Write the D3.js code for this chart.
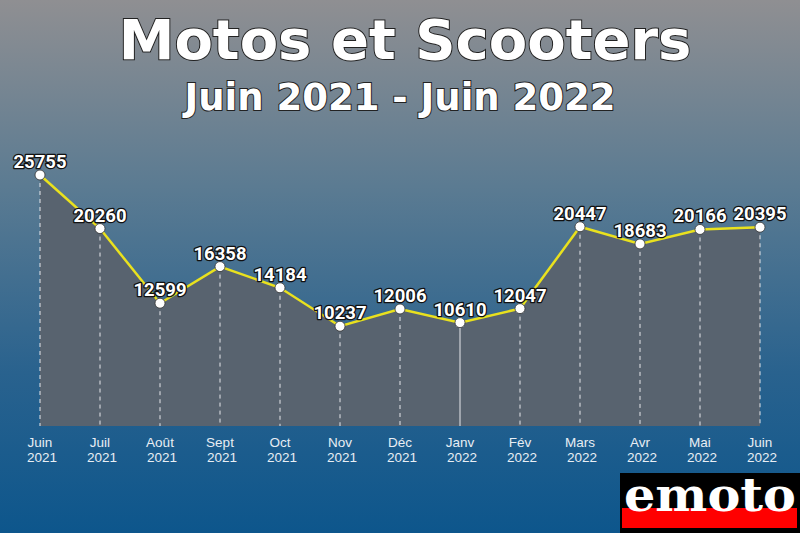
<!DOCTYPE html>
<html><head><meta charset="utf-8">
<script src="https://cdn.jsdelivr.net/npm/d3@7"></script>
<style>html,body{margin:0;padding:0;}svg{display:block;}</style>
</head><body>
<script>
const months = ["Juin","Juil","Août","Sept","Oct","Nov","Déc","Janv","Fév","Mars","Avr","Mai","Juin"];
const years = ["2021","2021","2021","2021","2021","2021","2021","2022","2022","2022","2022","2022","2022"];
const values = [25755,20260,12599,16358,14184,10237,12006,10610,12047,20447,18683,20166,20395];
const title = "Motos et Scooters";
const subtitle = "Juin 2021 - Juin 2022";

const W = 800, H = 533;
const svg = d3.select("body").append("svg").attr("width", W).attr("height", H);
const defs = svg.append("defs");
const g = defs.append("linearGradient").attr("id","bg").attr("x1",0).attr("y1",0).attr("x2",0).attr("y2",1);
g.append("stop").attr("offset","0%").attr("stop-color","#8f8f92");
g.append("stop").attr("offset","35%").attr("stop-color","#5b7b92");
g.append("stop").attr("offset","70%").attr("stop-color","#29628e");
g.append("stop").attr("offset","100%").attr("stop-color","#0d568c");
svg.append("rect").attr("width",W).attr("height",H).attr("fill","url(#bg)");

const idx = d3.range(values.length);
const x = d3.scaleLinear().domain([0, values.length-1]).range([40, 760]);
const y = d3.scaleLinear().domain([0, 25755]).range([426, 175]);

svg.append("path").datum(idx)
  .attr("d", d3.area().x(i=>x(i)).y0(y(0)).y1(i=>y(values[i])))
  .attr("fill","#58636f");

svg.selectAll("line.v").data(idx).join("line")
  .attr("x1",i=>x(i)).attr("x2",i=>x(i))
  .attr("y1",i=>y(values[i])).attr("y2",y(0))
  .attr("stroke","#e6e8ec").attr("stroke-width",1)
  .attr("stroke-dasharray",i=> i===7 ? null : "4,4");

svg.append("path").datum(idx)
  .attr("d", d3.line().x(i=>x(i)).y(i=>y(values[i])))
  .attr("fill","none").attr("stroke","#e9e11e").attr("stroke-width",2.5);

svg.selectAll("circle").data(idx).join("circle")
  .attr("cx",i=>x(i)).attr("cy",i=>y(values[i])).attr("r",5)
  .attr("fill","#fff").attr("stroke","#333").attr("stroke-width",0.8);

svg.selectAll("text.val").data(idx).join("text").attr("class","val")
  .attr("x",i=>x(i)).attr("y",i=>y(values[i])-7)
  .attr("text-anchor","middle")
  .attr("font-family","Roboto").attr("font-weight","bold").attr("font-size",18.5)
  .attr("fill","#fff").attr("stroke","#111").attr("stroke-width",2.6).attr("paint-order","stroke")
  .attr("stroke-linejoin","round")
  .text(i=>values[i]);

svg.selectAll("text.mo").data(idx).join("text").attr("class","mo")
  .attr("x",i=>x(i)).attr("y",447)
  .attr("text-anchor","middle")
  .attr("font-family","Liberation Sans, Arial").attr("font-size",13.5)
  .attr("fill","#e8eef4").text(i=>months[i]);
svg.selectAll("text.yr").data(idx).join("text").attr("class","yr")
  .attr("x",i=>x(i)+2).attr("y",462)
  .attr("text-anchor","middle")
  .attr("font-family","Liberation Sans, Arial").attr("font-size",13.5)
  .attr("fill","#e8eef4").text(i=>years[i]);

svg.append("text").attr("x",W/2+5).attr("y",59).attr("text-anchor","middle")
  .attr("font-family","DejaVu Sans").attr("font-weight","bold").attr("font-size",56)
  .attr("fill","#fff").attr("stroke","#222").attr("stroke-width",2).attr("paint-order","stroke")
  .text(title);
svg.append("text").attr("x",W/2).attr("y",110).attr("text-anchor","middle")
  .attr("font-family","DejaVu Sans").attr("font-weight","bold").attr("font-size",37)
  .attr("fill","#fff").attr("stroke","#222").attr("stroke-width",2).attr("paint-order","stroke")
  .text(subtitle);

const logo = svg.append("g");
logo.append("rect").attr("x",620).attr("y",473).attr("width",180).attr("height",60).attr("fill","#000");
logo.append("rect").attr("x",622).attr("y",508).attr("width",175).attr("height",20).attr("fill","#ff0000");
logo.append("text").attr("x",624).attr("y",511)
  .attr("font-family","DejaVu Serif").attr("font-weight","bold").attr("font-size",46)
  .attr("textLength",172).attr("lengthAdjust","spacingAndGlyphs")
  .attr("fill","#fff").text("emoto");
</script>
</body></html>
